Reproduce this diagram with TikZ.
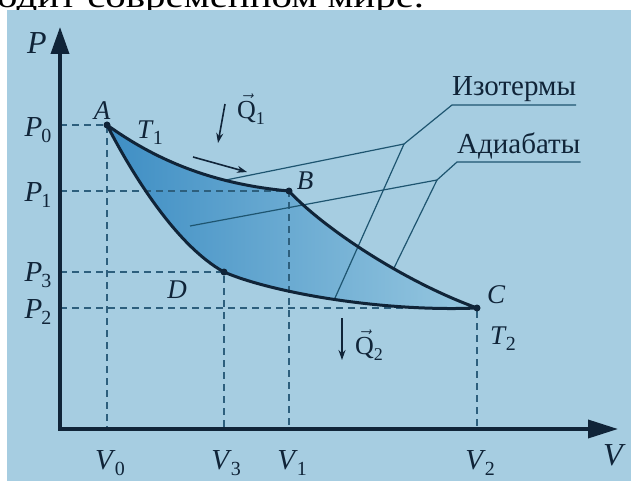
\documentclass[tikz,border=0pt]{standalone}
\usepackage{fontspec}
\setmainfont{Liberation Serif}
\usetikzlibrary{arrows.meta}

\definecolor{bgblue}{RGB}{166,205,225}
\definecolor{ink}{RGB}{16,36,56}
\definecolor{dashc}{RGB}{45,95,125}
\definecolor{leadc}{RGB}{30,85,112}
\definecolor{fillL}{RGB}{62,142,196}
\definecolor{fillR}{RGB}{152,200,224}

\newcommand\ind[2]{\textit{#1}\kern-1pt\raisebox{-6pt}{\fontsize{20}{20}\selectfont #2}}
\newcommand\vq[1]{$\vec{\hbox{Q}}$\raisebox{-6pt}{\fontsize{18}{18}\selectfont #1}}

\tikzset{
  curve/.style={draw=ink,line width=3pt,line join=round},
  axis/.style={draw=ink,line width=3.6pt,line join=miter,
    {Triangle[length=27pt,width=18pt]}-{Triangle[length=30pt,width=18pt]}},
  guide/.style={draw=dashc,line width=1.2pt,dash pattern=on 7pt off 5pt},
  leader/.style={draw=leadc,line width=1.2pt},
  heat/.style={draw=ink,line width=1.6pt,-{Stealth[length=10pt,width=7pt]}},
  lbl/.style={text=ink,font=\fontsize{29}{29}\selectfont,inner sep=0pt},
  ptlbl/.style={lbl,font=\fontsize{27}{27}\selectfont\itshape},
}

\begin{document}
\begin{tikzpicture}[x=1pt,y=-1pt]
  \useasboundingbox (0,0) rectangle (631,481);
  \clip (0,0) rectangle (631,481);
  \fill[white] (0,0) rectangle (631,481);
  \node[anchor=base west,inner sep=0pt,font=\fontsize{33}{33}\selectfont] (head) at (-3,8) {\scalebox{1.24}[1]{одит современном мире.}};
  \fill[bgblue] (7,10) rectangle (631,481);

  \coordinate (O) at (60,429);
  \coordinate (ytip) at (60,27);
  \coordinate (xtip) at (618,429);
  \coordinate (A) at (107,125);
  \coordinate (B) at (289,191);
  \coordinate (C) at (477,308);
  \coordinate (D) at (224,272);

  \shade[left color=fillL,right color=fillR] (A) .. controls (145,152) and (200,183) .. (B)
    .. controls (320,225) and (400,280) .. (C)
    .. controls (380,312) and (270,292) .. (D)
    .. controls (175,245) and (130,170) .. (A) -- cycle;

  \draw[guide] (A -| O) -- (A) -- (A |- O);
  \draw[guide] (B -| O) -- (B) -- (B |- O);
  \draw[guide] (C -| O) -- (C) -- (C |- O);
  \draw[guide] (D -| O) -- (D) -- (D |- O);

  \node[lbl,anchor=south west,inner ysep=3pt] (iso) at (452,105) {Изотермы};
  \node[lbl,anchor=south west,inner ysep=3pt] (adi) at (457,162) {Адиабаты};
  \coordinate (isoJ) at (404,144);
  \coordinate (isoAB) at (226,180);
  \coordinate (isoDC) at (335,298);
  \coordinate (adiJ) at (437,180);
  \coordinate (adiIn) at (190,226);
  \coordinate (adiBC) at (394,268);
  \draw[leader] (iso.south east) -- (iso.south west) -- (isoJ) -- (isoAB);
  \draw[leader] (isoJ) -- (isoDC);
  \draw[leader] (adi.south east) -- (adi.south west) -- (adiJ) -- (adiIn);
  \draw[leader] (adiJ) -- (adiBC);

  \draw[curve] (A) .. controls (145,152) and (200,183) .. (B)
    .. controls (320,225) and (400,280) .. (C)
    .. controls (380,312) and (270,292) .. (D)
    .. controls (175,245) and (130,170) .. (A) -- cycle;
  \foreach \p in {A,B,C,D} \fill[ink] (\p) circle (3.5pt);

  \draw[axis] (ytip) -- (O) -- (xtip);

  \coordinate (q1s) at (225,104);
  \coordinate (q1e) at (218,143);
  \coordinate (ws) at (193,157);
  \coordinate (we) at (247,172);
  \coordinate (q2s) at (342,318);
  \coordinate (q2e) at (342,360);
  \draw[heat] (q1s) -- (q1e);
  \draw[heat] (ws) -- (we);
  \draw[heat] (q2s) -- (q2e);
  \node[lbl,font=\fontsize{26}{26}\selectfont] (Q1) at (251,109) {\vq{1}};
  \node[lbl,font=\fontsize{26}{26}\selectfont] (Q2) at (369,345) {\vq{2}};

  \node[lbl,font=\fontsize{32}{32}\selectfont\itshape] (Plbl) at (37,43) {P};
  \node[lbl,font=\fontsize{32}{32}\selectfont\itshape] (Vlbl) at (613,455) {V};
  \node[lbl] (P0) at (38,130) {\ind{P}{0}};
  \node[lbl] (P1) at (38,195) {\ind{P}{1}};
  \node[lbl] (P3) at (38,275) {\ind{P}{3}};
  \node[lbl] (P2) at (38,312) {\ind{P}{2}};
  \node[lbl] (V0) at (110,463) {\ind{V}{0}};
  \node[lbl] (V3) at (226,463) {\ind{V}{3}};
  \node[lbl] (V1) at (292,463) {\ind{V}{1}};
  \node[lbl] (V2) at (480,463) {\ind{V}{2}};

  \node[ptlbl] (Albl) at (102,111) {A};
  \node[ptlbl] (Blbl) at (305,181) {B};
  \node[ptlbl] (Clbl) at (496,295) {C};
  \node[ptlbl] (Dlbl) at (177,290) {D};
  \node[lbl,font=\fontsize{27}{27}\selectfont] (T1) at (150,133) {\ind{T}{1}};
  \node[lbl,font=\fontsize{27}{27}\selectfont] (T2) at (503,339) {\ind{T}{2}};
\end{tikzpicture}
\end{document}
